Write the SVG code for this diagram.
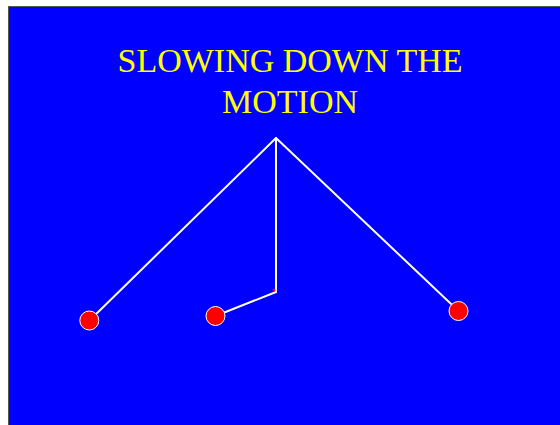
<svg xmlns="http://www.w3.org/2000/svg" width="560" height="425" viewBox="0 0 560 425">
<style>
.t{font-family:"Liberation Serif","Times New Roman",serif;font-size:34px;fill:#ffff00;text-anchor:middle}
.rod{stroke:#ffffff;stroke-width:2;fill:none;stroke-linecap:round}
.bob{fill:#ff0000;stroke:#ffffff;stroke-width:1}
</style>
<rect x="0" y="0" width="560" height="425" fill="#ffffff"/>
<rect x="8.5" y="6.5" width="552" height="420" fill="#0000ff" stroke="#555555" stroke-width="1"/>
<g id="title">
<text class="t" x="290" y="72">SLOWING DOWN THE</text>
<text class="t" x="290" y="113">MOTION</text>
</g>
<g id="connectors">
<line class="rod" x1="276" y1="138" x2="89" y2="321"/>
<line class="rod" x1="276" y1="138" x2="458.5" y2="311"/>
<polyline class="rod" points="276,138 276,292 215.5,316"/>
</g>
<g id="bob-left"><circle class="bob" cx="89.3" cy="320.5" r="9.5"/></g>
<g id="bob-middle"><circle class="bob" cx="215.5" cy="316" r="9.5"/><circle cx="274" cy="290" r="1.5" fill="#ff0000"/></g>
<g id="bob-right"><circle class="bob" cx="458.5" cy="311" r="9.5"/></g>
</svg>
